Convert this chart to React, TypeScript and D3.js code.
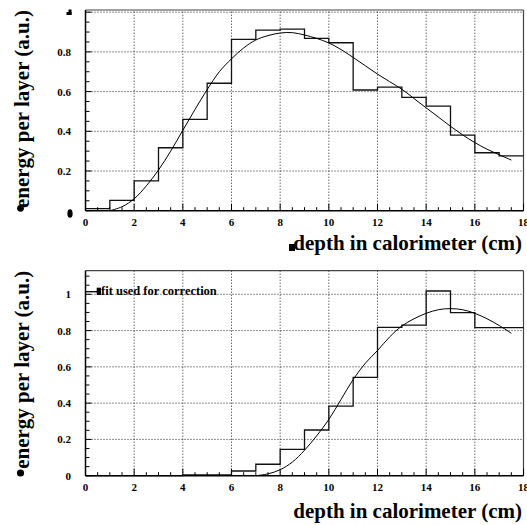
import React from "react";
import * as d3 from "d3";

// ---- data ----
const binStarts = [0, 1, 2, 3, 4, 5, 6, 7, 8, 9, 10, 11, 12, 13, 14, 15, 16, 17];
const binWidth = 1;
const topHist = [0.01, 0.052, 0.15, 0.317, 0.46, 0.642, 0.863, 0.91, 0.915, 0.868, 0.846, 0.608, 0.622, 0.571, 0.527, 0.381, 0.292, 0.276];
const bottomHist = [0, 0, 0, 0, 0.005, 0.005, 0.026, 0.063, 0.145, 0.252, 0.384, 0.542, 0.818, 0.83, 1.018, 0.899, 0.816, 0.816];

const topFitX = [1, 1.5, 2, 2.5, 3, 3.5, 4, 4.5, 5, 5.5, 6, 6.5, 7, 7.5, 8, 8.5, 9, 9.5, 10, 10.5, 11, 11.5, 12, 12.5, 13, 13.5, 14, 14.5, 15, 15.5, 16, 16.5, 17, 17.5];
const topFitY = [0, 0.02, 0.06, 0.125, 0.205, 0.3, 0.405, 0.51, 0.61, 0.7, 0.765, 0.82, 0.86, 0.882, 0.895, 0.897, 0.885, 0.868, 0.845, 0.812, 0.772, 0.73, 0.688, 0.65, 0.612, 0.565, 0.518, 0.472, 0.425, 0.382, 0.343, 0.31, 0.282, 0.255];

const bottomFitX = [7, 7.5, 8, 8.5, 9, 9.5, 10, 10.5, 11, 11.5, 12, 12.5, 13, 13.5, 14, 14.5, 15, 15.5, 16, 16.5, 17, 17.5];
const bottomFitY = [0, 0.01, 0.033, 0.075, 0.14, 0.22, 0.31, 0.42, 0.53, 0.62, 0.69, 0.765, 0.825, 0.865, 0.895, 0.915, 0.921, 0.915, 0.895, 0.865, 0.828, 0.785];

const xMajorTicks = [0, 2, 4, 6, 8, 10, 12, 14, 16, 18];
const xGridTicks = [2, 4, 6, 8, 10, 12, 14, 16];
const topYLabels = ["", "0.2", "0.4", "0.6", "0.8", ""];
const topYMajor = [0, 0.2, 0.4, 0.6, 0.8, 1.0];
const bottomYLabels = ["0", "0.2", "0.4", "0.6", "0.8", "1"];
const bottomYMajor = [0, 0.2, 0.4, 0.6, 0.8, 1.0];

const xTitle = "depth in calorimeter (cm)";
const yTitle = "energy per layer (a.u.)";
const legendText = "fit used for correction";

const FONT = "'Liberation Serif', 'Times New Roman', serif";

type PanelProps = {
  top: number;
  bottom: number;
  yMax: number;
  hist: number[];
  fitX: number[];
  fitY: number[];
  yMajor: number[];
  yLabels: string[];
  yMinorMax: number;
  titleBaseline: number;
  children?: React.ReactNode;
};

function Panel(p: PanelProps) {
  const left = 85.5;
  const right = 523.5;
  const x = d3.scaleLinear().domain([0, 18]).range([left, right]);
  const y = d3.scaleLinear().domain([0, p.yMax]).range([p.bottom, p.top]);

  const histPts: [number, number][] = binStarts.map((s, i) => [s, p.hist[i]]);
  histPts.push([binStarts[binStarts.length - 1] + binWidth, p.hist[p.hist.length - 1]]);
  const histPath = d3
    .line<[number, number]>()
    .x((d) => x(d[0]))
    .y((d) => y(d[1]))
    .curve(d3.curveStepAfter)(histPts) as string;

  const fitPath = d3
    .line<number>()
    .x((d) => x(d))
    .y((_, i) => y(p.fitY[i]))
    .curve(d3.curveCatmullRom)(p.fitX) as string;

  const xMinor = d3.range(0, 18.001, 0.5);
  const yMinor = d3.range(0, p.yMinorMax + 0.001, 0.05);
  const yGrid = p.yMajor.filter((v) => v > 0 && y(v) > p.top + 1);

  return (
    <g>
      {/* grid */}
      {xGridTicks.map((t) => (
        <line key={"gx" + t} x1={x(t)} x2={x(t)} y1={p.bottom} y2={p.top} stroke="#222" strokeWidth={1} strokeDasharray="1,2" />
      ))}
      {yGrid.map((t) => (
        <line key={"gy" + t} x1={left} x2={right} y1={y(t)} y2={y(t)} stroke="#222" strokeWidth={1} strokeDasharray="1,2" />
      ))}
      {/* frame top/right */}
      <line x1={left} x2={right} y1={p.top} y2={p.top} stroke="#444" strokeWidth={1.2} />
      <line x1={right} x2={right} y1={p.top} y2={p.bottom} stroke="#444" strokeWidth={1.2} />
      {/* histogram */}
      <path d={histPath} fill="none" stroke="#111" strokeWidth={1.3} />
      {/* fit */}
      <path d={fitPath} fill="none" stroke="#000" strokeWidth={1} />
      {/* axes */}
      <line x1={left} x2={right} y1={p.bottom} y2={p.bottom} stroke="#000" strokeWidth={1.5} />
      <line x1={left} x2={left} y1={p.bottom} y2={p.top} stroke="#000" strokeWidth={1.5} />
      {xMinor.map((t) => {
        const major = Math.abs(t % 2) < 1e-6;
        return <line key={"xt" + t} x1={x(t)} x2={x(t)} y1={p.bottom} y2={p.bottom - (major ? 7 : 3.5)} stroke="#000" strokeWidth={1} />;
      })}
      {yMinor.map((t) => {
        const major = Math.abs((t * 10) % 2) < 1e-6 || Math.abs((t * 10) % 2 - 2) < 1e-6;
        return <line key={"yt" + t} x1={left} x2={left + (major ? 6 : 4)} y1={y(t)} y2={y(t)} stroke="#000" strokeWidth={1} />;
      })}
      {xMajorTicks.map((t) => (
        <text key={"xl" + t} x={x(t)} y={p.bottom + 15} textAnchor="middle" fontFamily={FONT} fontWeight="bold" fontSize={11}>
          {String(t)}
        </text>
      ))}
      {p.yMajor.map((t, i) =>
        p.yLabels[i] ? (
          <text key={"yl" + t} x={71} y={y(t) + 4} textAnchor="end" fontFamily={FONT} fontWeight="bold" fontSize={11}>
            {p.yLabels[i]}
          </text>
        ) : null
      )}
      {/* titles */}
      <text x={522} y={p.titleBaseline} textAnchor="end" fontFamily={FONT} fontWeight="bold" fontSize={21}>
        {xTitle}
      </text>
      <text
        transform={`translate(29,${p.top}) rotate(-90)`}
        textAnchor="end"
        fontFamily={FONT}
        fontWeight="bold"
        fontSize={21}
      >
        {yTitle}
      </text>
      {p.children}
    </g>
  );
}

export default function App() {
  return (
    <svg width={527} height={525} style={{ position: "absolute", left: 0, top: 0, background: "#fff" }}>
      <rect x={0} y={0} width={527} height={525} fill="#fff" />
      <Panel
        top={10}
        bottom={210.7}
        yMax={1.011}
        hist={topHist}
        fitX={topFitX}
        fitY={topFitY}
        yMajor={topYMajor}
        yLabels={topYLabels}
        yMinorMax={1.0}
        titleBaseline={250}
      >
        {/* blotted labels / glyph artifacts */}
        <rect x={68.5} y={9.5} width={3} height={5.5} fill="#000" />
        <rect x={66.5} y={12} width={5} height={3} fill="#000" />
        <ellipse cx={70} cy={213.5} rx={2.6} ry={4.3} fill="#000" />
        <rect x={289} y={244} width={6} height={7} fill="#000" />
        <ellipse cx={20.5} cy={208.3} rx={3.4} ry={3.4} fill="#000" />
      </Panel>
      <Panel
        top={270.7}
        bottom={475.7}
        yMax={1.13}
        hist={bottomHist}
        fitX={bottomFitX}
        fitY={bottomFitY}
        yMajor={bottomYMajor}
        yLabels={bottomYLabels}
        yMinorMax={1.1}
        titleBaseline={518}
      >
        <ellipse cx={20.5} cy={473} rx={3.6} ry={3.6} fill="#000" />
        <line x1={85.5} x2={97} y1={291.7} y2={291.7} stroke="#000" strokeWidth={1.3} />
        <rect x={96.7} y={287.7} width={4.3} height={7.3} fill="#000" />
        <text x={101} y={295} fontFamily={FONT} fontWeight="bold" fontSize={12.5}>
          {legendText}
        </text>
      </Panel>
    </svg>
  );
}
